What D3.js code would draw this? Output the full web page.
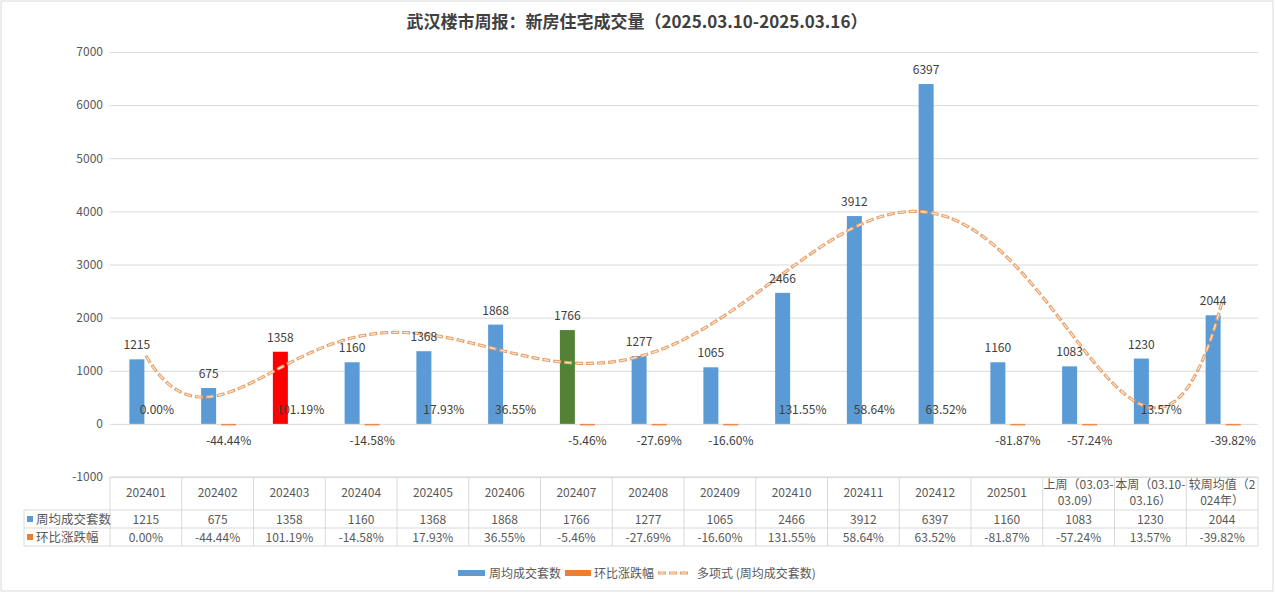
<!DOCTYPE html>
<html>
<head>
<meta charset="utf-8">
<script src="https://cdn.jsdelivr.net/npm/d3@7/dist/d3.min.js"></script>
<style>
  html, body { margin: 0; padding: 0; background: #fff; }
  svg { display: block; font-family: "Noto Sans CJK SC", "Noto Sans", sans-serif; }
</style>
</head>
<body>
<svg id="chart" width="1275" height="593"></svg>
<script>
// ---------- data ----------
const titleText = "武汉楼市周报：新房住宅成交量（2025.03.10-2025.03.16）";
const categories = ["202401","202402","202403","202404","202405","202406","202407","202408",
  "202409","202410","202411","202412","202501","上周（03.03-\n03.09）","本周（03.10-\n03.16）","较周均值（2\n024年）"];
const weeklyUnits = [1215,675,1358,1160,1368,1868,1766,1277,1065,2466,3912,6397,1160,1083,1230,2044];
const momChange = [0.00,-44.44,101.19,-14.58,17.93,36.55,-5.46,-27.69,-16.60,131.55,58.64,63.52,-81.87,-57.24,13.57,-39.82];
const seriesNames = ["周均成交套数","环比涨跌幅"];
const trendName = "多项式 (周均成交套数)";
const yTicks = [-1000,0,1000,2000,3000,4000,5000,6000,7000];
const highlight = {2: "#ff0000", 6: "#548235"};
const trendDegree = 6;

// ---------- setup ----------
const svg = d3.select("#chart");
const W = 1275, H = 593;
const left = 110, right = 1258;
const blue = "#5b9bd5", orange = "#ed7d31", txt = "#595959", grid = "#d9d9d9";
const pct = d => d.toFixed(2) + "%";

svg.append("rect").attr("x",1).attr("y",1).attr("width",W-3).attr("height",H-3)
  .attr("fill","#fff").attr("stroke","#d9d9d9");

svg.append("text").attr("x", 637).attr("y", 28).attr("text-anchor","middle")
  .attr("font-size", 17).attr("font-weight","bold").attr("fill","#404040").text(titleText);

const y = d3.scaleLinear().domain([-1000, 7000]).range([477, 52]);
const x0 = d3.scaleBand().domain(categories).range([left, right]);
const x1 = d3.scaleBand().domain(["a","b"]).range([0, 35]).paddingInner(0.25);
const groupOff = (x0.bandwidth() - 35) / 2 + 1;

// axis + grid
const yAxis = svg.append("g").attr("transform", `translate(${left},0)`)
  .call(d3.axisLeft(y).tickValues(yTicks).tickFormat(d => String(d)).tickSize(-(right-left)).tickPadding(7));
yAxis.select(".domain").remove();
yAxis.selectAll(".tick line").attr("stroke", grid);
yAxis.selectAll(".tick text").attr("fill", txt).attr("font-size", 12)
  .attr("font-family", "'Noto Sans CJK SC', sans-serif");

// bars
const gBars = svg.append("g");
gBars.selectAll(".b").data(weeklyUnits).join("rect")
  .attr("x", (d,i) => x0(categories[i]) + groupOff + x1("a"))
  .attr("width", x1.bandwidth())
  .attr("y", d => y(d))
  .attr("height", d => y(0) - y(d))
  .attr("fill", (d,i) => highlight[i] || blue);

gBars.selectAll(".o").data(momChange).join("rect")
  .attr("x", (d,i) => x0(categories[i]) + groupOff + x1("b"))
  .attr("width", x1.bandwidth())
  .attr("y", d => d < 0 ? y(0) : y(d / 100))
  .attr("height", d => d < 0 ? Math.max(1.6, y(d/100) - y(0)) : Math.abs(y(0) - y(d/100)))
  .attr("fill", orange).attr("opacity", 0.85);

// trendline (polynomial least squares fit, as the chart's trendline)
function polyfit(xs, ys, deg) {
  const n = deg + 1;
  const mid = (xs[0] + xs[xs.length-1]) / 2, half = (xs[xs.length-1] - xs[0]) / 2;
  const A = Array.from({length:n}, () => new Array(n).fill(0));
  const b = new Array(n).fill(0);
  xs.forEach((xv, k) => {
    const s = (xv - mid) / half;
    const p = []; for (let j = 0; j < n; j++) p.push(Math.pow(s, j));
    for (let r = 0; r < n; r++) { b[r] += p[r] * ys[k]; for (let c = 0; c < n; c++) A[r][c] += p[r]*p[c]; }
  });
  for (let c = 0; c < n; c++) {
    let piv = c; for (let r = c+1; r < n; r++) if (Math.abs(A[r][c]) > Math.abs(A[piv][c])) piv = r;
    [A[c], A[piv]] = [A[piv], A[c]]; [b[c], b[piv]] = [b[piv], b[c]];
    for (let r = c+1; r < n; r++) { const f = A[r][c]/A[c][c]; for (let k = c; k < n; k++) A[r][k] -= f*A[c][k]; b[r] -= f*b[c]; }
  }
  const coef = new Array(n).fill(0);
  for (let r = n-1; r >= 0; r--) { let s = b[r]; for (let k = r+1; k < n; k++) s -= A[r][k]*coef[k]; coef[r] = s / A[r][r]; }
  return xv => { const s = (xv - mid) / half; return coef.reduce((acc, c, j) => acc + c * Math.pow(s, j), 0); };
}
const idx = weeklyUnits.map((d,i) => i + 1);
const trend = polyfit(idx, weeklyUnits, trendDegree);
const xc = d3.scaleLinear().domain([1, categories.length])
  .range([x0(categories[0]) + x0.bandwidth()/2, x0(categories[categories.length-1]) + x0.bandwidth()/2]);
const tpts = d3.range(1, categories.length + 0.0001, 0.05).map(t => [xc(t), y(trend(t))]);
const line = d3.line().curve(d3.curveLinear);
svg.append("path").attr("d", line(tpts)).attr("fill","none")
  .attr("stroke", "#eaa068").attr("stroke-width", 3.2).attr("stroke-dasharray", "8,3");
svg.append("path").attr("d", line(tpts)).attr("fill","none")
  .attr("stroke", "#fdeee2").attr("stroke-width", 1.1).attr("stroke-dasharray", "5.5,5.5")
  .attr("stroke-dashoffset", -1.25);

// data labels
const gl = svg.append("g").attr("font-size", 12).attr("fill", "#404040").attr("text-anchor","middle");
gl.selectAll(".lb").data(weeklyUnits).join("text")
  .attr("x", (d,i) => x0(categories[i]) + groupOff + x1("a") + x1.bandwidth()/2)
  .attr("y", d => y(d) - 10)
  .text(d => d);
gl.selectAll(".lo").data(momChange).join("text")
  .attr("x", (d,i) => x0(categories[i]) + groupOff + x1("b") + x1.bandwidth()/2)
  .attr("y", d => d < 0 ? y(0) + 21 : y(0) - 10)
  .text(pct);

// data table
const tTop = 477, r1 = 510, r2 = 528, r3 = 546, labelLeft = 24;
const gt = svg.append("g");
const lineAttr = s => s.attr("stroke", grid).attr("stroke-width", 1);
[r1, r2, r3].forEach(yy => gt.append("line").attr("x1", labelLeft).attr("x2", right).attr("y1", yy).attr("y2", yy).call(lineAttr));
gt.append("line").attr("x1", left).attr("x2", right).attr("y1", tTop).attr("y2", tTop).call(lineAttr);
categories.forEach((c, i) => {
  gt.append("line").attr("x1", x0(c)).attr("x2", x0(c)).attr("y1", tTop).attr("y2", r3).call(lineAttr);
});
gt.append("line").attr("x1", right).attr("x2", right).attr("y1", tTop).attr("y2", r3).call(lineAttr);
gt.append("line").attr("x1", labelLeft).attr("x2", labelLeft).attr("y1", r1).attr("y2", r3).call(lineAttr);

const tt = gt.append("g").attr("font-size", 12).attr("fill", txt).attr("text-anchor", "middle");
categories.forEach((c, i) => {
  const cx = x0(c) + x0.bandwidth()/2;
  const parts = c.split("\n");
  if (parts.length === 1) {
    tt.append("text").attr("x", cx).attr("y", 497).text(c);
  } else {
    tt.append("text").attr("x", cx).attr("y", 489).text(parts[0]);
    tt.append("text").attr("x", cx).attr("y", 505).text(parts[1]);
  }
  tt.append("text").attr("x", cx).attr("y", 524).text(weeklyUnits[i]);
  tt.append("text").attr("x", cx).attr("y", 542).text(pct(momChange[i]));
});
[[seriesNames[0], blue, 519], [seriesNames[1], orange, 537]].forEach(([name, col, cy]) => {
  gt.append("rect").attr("x", 27).attr("y", cy - 3).attr("width", 6).attr("height", 6).attr("fill", col);
  gt.append("text").attr("x", 36).attr("y", cy + 4.5).attr("font-size", 12.5).attr("fill", txt).text(name);
});

// legend
const lg = svg.append("g").attr("font-size", 12).attr("fill", txt);
const ly = 573;
lg.append("rect").attr("x", 458).attr("y", ly - 3).attr("width", 27).attr("height", 6).attr("fill", blue);
lg.append("text").attr("x", 489).attr("y", ly + 4.5).text(seriesNames[0]);
lg.append("rect").attr("x", 565).attr("y", ly - 3).attr("width", 26).attr("height", 6).attr("fill", orange);
lg.append("text").attr("x", 594).attr("y", ly + 4.5).text(seriesNames[1]);
lg.append("path").attr("d", `M658,${ly}H691`).attr("stroke", "#eaa068").attr("stroke-width", 3.2).attr("stroke-dasharray", "8,3");
lg.append("path").attr("d", `M658,${ly}H691`).attr("stroke", "#fdeee2").attr("stroke-width", 1.1).attr("stroke-dasharray", "5.5,5.5").attr("stroke-dashoffset", -1.25);
lg.append("text").attr("x", 697).attr("y", ly + 4.5).text(trendName);
</script>
</body>
</html>
